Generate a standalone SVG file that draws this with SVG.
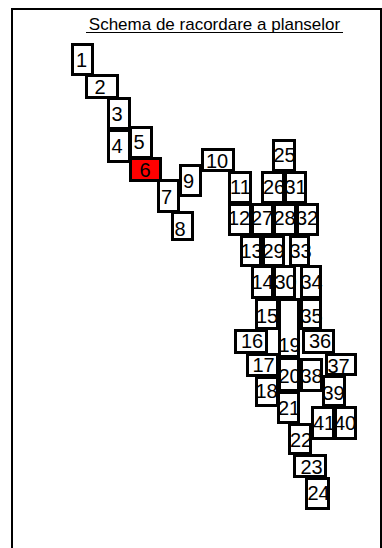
<svg xmlns="http://www.w3.org/2000/svg" width="382" height="548" viewBox="0 0 382 548">
<style>
.frame{fill:none;stroke:#000;stroke-width:2}
.b{fill:none;stroke:#000;stroke-width:3}
.red{fill:#ff0000}
.t{font-family:"Liberation Sans",Arial,sans-serif;font-size:20px;fill:#000;text-anchor:middle}
.title{font-family:"Liberation Sans",Arial,sans-serif;font-size:17px;fill:#000;text-anchor:middle}
</style>
<rect width="382" height="548" fill="#fff"/>
<rect class="frame" x="12" y="9" width="369" height="600"/>
<g id="title">
<text class="title" x="214.5" y="30">Schema de racordare a planselor</text>
<line x1="86" y1="32.5" x2="343" y2="32.5" stroke="#000" stroke-width="1"/>
</g>
<g id="connectors"></g>
<g id="n1"><rect class="b" x="72.5" y="44.5" width="20" height="30"/><text class="t" x="81.5" y="67">1</text></g>
<g id="n2"><rect class="b" x="86.5" y="75.5" width="31" height="22"/><text class="t" x="100" y="94">2</text></g>
<g id="n3"><rect class="b" x="108.5" y="98.5" width="21" height="30"/><text class="t" x="117" y="120.5">3</text></g>
<g id="n4"><rect class="b" x="108.5" y="130.5" width="21" height="31"/><text class="t" x="117" y="152.5">4</text></g>
<g id="n5"><rect class="b" x="130.5" y="127.5" width="21" height="30"/><text class="t" x="139" y="149">5</text></g>
<g id="n6"><rect class="b red" x="130.5" y="158.5" width="30" height="22"/><text class="t" x="145" y="176.5">6</text></g>
<g id="n7"><rect class="b" x="158.5" y="180.5" width="20" height="31"/><text class="t" x="166.5" y="204">7</text></g>
<g id="n8"><rect class="b" x="172.5" y="212.5" width="20" height="27"/><text class="t" x="180" y="236">8</text></g>
<g id="n9"><rect class="b" x="180.5" y="165.5" width="20" height="30"/><text class="t" x="188.5" y="188">9</text></g>
<g id="n10"><rect class="b" x="202.5" y="149.5" width="31" height="21"/><text class="t" x="217" y="167.5">10</text></g>
<g id="n11"><rect class="b" x="229.5" y="172.5" width="21" height="30"/><text class="t" x="240.5" y="194">11</text></g>
<g id="n12"><rect class="b" x="229.5" y="204.5" width="21" height="30"/><text class="t" x="239" y="225">12</text></g>
<g id="n13"><rect class="b" x="241.5" y="236.5" width="19" height="29"/><text class="t" x="251.5" y="257.5">13</text></g>
<g id="n14"><rect class="b" x="252.5" y="266.5" width="20" height="31"/><text class="t" x="262.5" y="289">14</text></g>
<g id="n15"><rect class="b" x="256.5" y="299.5" width="21" height="29"/><text class="t" x="267" y="322.5">15</text></g>
<g id="n16"><rect class="b" x="235.5" y="330.5" width="31" height="22"/><text class="t" x="252" y="348">16</text></g>
<g id="n17"><rect class="b" x="247.5" y="354.5" width="30" height="21"/><text class="t" x="263.5" y="371.5">17</text></g>
<g id="n18"><rect class="b" x="256.5" y="377.5" width="21" height="28"/><text class="t" x="266.5" y="398">18</text></g>
<g id="n19"><rect class="b" x="279.5" y="299.5" width="19" height="57"/><text class="t" x="289.5" y="351.5">19</text></g>
<g id="n20"><rect class="b" x="279.5" y="358.5" width="19" height="32"/><text class="t" x="289.5" y="383">20</text></g>
<g id="n21"><rect class="b" x="278.5" y="392.5" width="20" height="30"/><text class="t" x="289" y="415">21</text></g>
<g id="n22"><rect class="b" x="289.5" y="424.5" width="21" height="29"/><text class="t" x="301" y="446.5">22</text></g>
<g id="n23"><rect class="b" x="294.5" y="455.5" width="31" height="21"/><text class="t" x="311.5" y="474">23</text></g>
<g id="n24"><rect class="b" x="306.5" y="478.5" width="22" height="30"/><text class="t" x="318.5" y="500">24</text></g>
<g id="n25"><rect class="b" x="273.5" y="140.5" width="21" height="30"/><text class="t" x="284.5" y="161.5">25</text></g>
<g id="n26"><rect class="b" x="262.5" y="172.5" width="21" height="30"/><text class="t" x="274" y="194">26</text></g>
<g id="n27"><rect class="b" x="252.5" y="204.5" width="20" height="30"/><text class="t" x="262" y="225">27</text></g>
<g id="n28"><rect class="b" x="274.5" y="204.5" width="21" height="30"/><text class="t" x="284.5" y="225">28</text></g>
<g id="n29"><rect class="b" x="263.5" y="236.5" width="20" height="29"/><text class="t" x="273.5" y="257.5">29</text></g>
<g id="n30"><rect class="b" x="274.5" y="266.5" width="20" height="31"/><text class="t" x="285.5" y="289">30</text></g>
<g id="n31"><rect class="b" x="285.5" y="172.5" width="20" height="30"/><text class="t" x="295.5" y="194">31</text></g>
<g id="n32"><rect class="b" x="297.5" y="204.5" width="20" height="30"/><text class="t" x="307" y="225">32</text></g>
<g id="n33"><rect class="b" x="290.5" y="236.5" width="18" height="29"/><text class="t" x="300.5" y="257.5">33</text></g>
<g id="n34"><rect class="b" x="301.5" y="266.5" width="19" height="31"/><text class="t" x="311.5" y="289">34</text></g>
<g id="n35"><rect class="b" x="301.5" y="299.5" width="19" height="29"/><text class="t" x="311.5" y="322.5">35</text></g>
<g id="n36"><rect class="b" x="303.5" y="330.5" width="30" height="22"/><text class="t" x="320" y="348">36</text></g>
<g id="n37"><rect class="b" x="326.5" y="354.5" width="29" height="20"/><text class="t" x="338.5" y="373">37</text></g>
<g id="n38"><rect class="b" x="301.5" y="359.5" width="20" height="31"/><text class="t" x="311.5" y="383">38</text></g>
<g id="n39"><rect class="b" x="323.5" y="376.5" width="21" height="29"/><text class="t" x="333.5" y="400">39</text></g>
<g id="n40"><rect class="b" x="335.5" y="407.5" width="20" height="31"/><text class="t" x="345" y="430">40</text></g>
<g id="n41"><rect class="b" x="312.5" y="407.5" width="21" height="31"/><text class="t" x="324" y="430">41</text></g>
</svg>
